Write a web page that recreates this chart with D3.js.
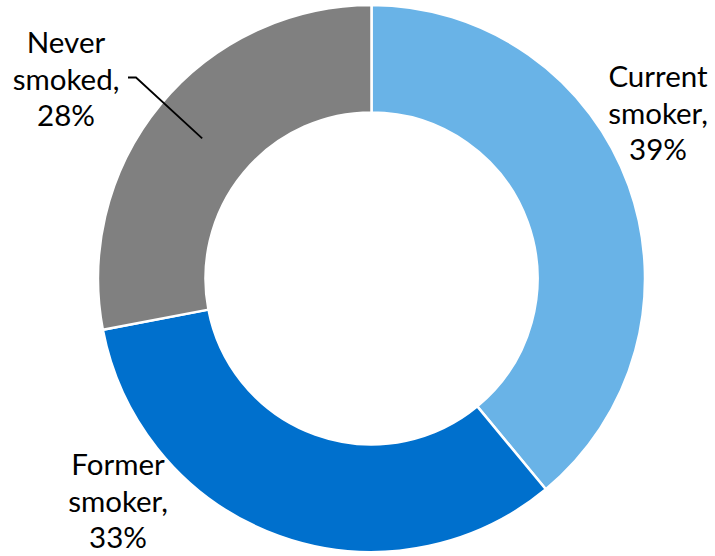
<!DOCTYPE html>
<html>
<head>
<meta charset="utf-8">
<script src="https://cdn.jsdelivr.net/npm/d3@7"></script>
<style>
  html, body { margin: 0; padding: 0; background: #ffffff; }
  svg { display: block; }
  text { font-family: "Lato", "Open Sans", sans-serif; fill: #000; }
</style>
</head>
<body>
<svg id="chart" width="715" height="556"></svg>
<script>
// ---- data ----
const categories = ["Current smoker", "Former smoker", "Never smoked"];
const values = [39, 33, 28];
const labelLines = [["Current", "smoker,", "39%"], ["Former", "smoker,", "33%"], ["Never", "smoked,", "28%"]];
const colors = ["#69B3E7", "#0070CD", "#808080"];

// ---- layout ----
const W = 715, H = 556;
const cx = 371.5, cy = 278.5;
const outerR = 273.5, innerR = 166;
const fontSize = 29.5, lineGap = 36.5;
// label block centres (x, first baseline)
const labelPos = [[658, 87], [118, 475], [66, 53]];

const svg = d3.select("#chart");
const g = svg.append("g").attr("transform", `translate(${cx},${cy})`);

const pie = d3.pie().sort(null).value(d => d.v).startAngle(0).endAngle(2 * Math.PI);
const data = categories.map((c, i) => ({ c, v: values[i], i }));
const arcs = pie(data);
const arc = d3.arc().innerRadius(innerR).outerRadius(outerR);

g.selectAll("path.slice")
  .data(arcs)
  .enter().append("path")
  .attr("class", "slice")
  .attr("d", arc)
  .attr("fill", d => colors[d.data.i])
  .attr("stroke", "#ffffff")
  .attr("stroke-width", 2.5)
  .attr("stroke-linejoin", "miter");

// leader line for "Never smoked"
const neverArc = arcs[2];
const cen = arc.centroid(neverArc);
const lx = labelPos[2][0], ly = labelPos[2][1] + lineGap;
const lineStart = [lx + 62, ly - 12];
svg.append("polyline")
  .attr("points", [[lineStart[0], lineStart[1]], [lineStart[0] + 8, lineStart[1]], [cx + cen[0], cy + cen[1]]].map(p => p.join(",")).join(" "))
  .attr("fill", "none")
  .attr("stroke", "#000")
  .attr("stroke-width", 1.8);

// labels
arcs.forEach((a, i) => {
  const t = svg.append("text")
    .attr("text-anchor", "middle")
    .attr("font-size", fontSize);
  labelLines[i].forEach((ln, k) => {
    t.append("tspan")
      .attr("x", labelPos[i][0])
      .attr("y", labelPos[i][1] + k * lineGap)
      .text(ln);
  });
});
</script>
</body>
</html>
